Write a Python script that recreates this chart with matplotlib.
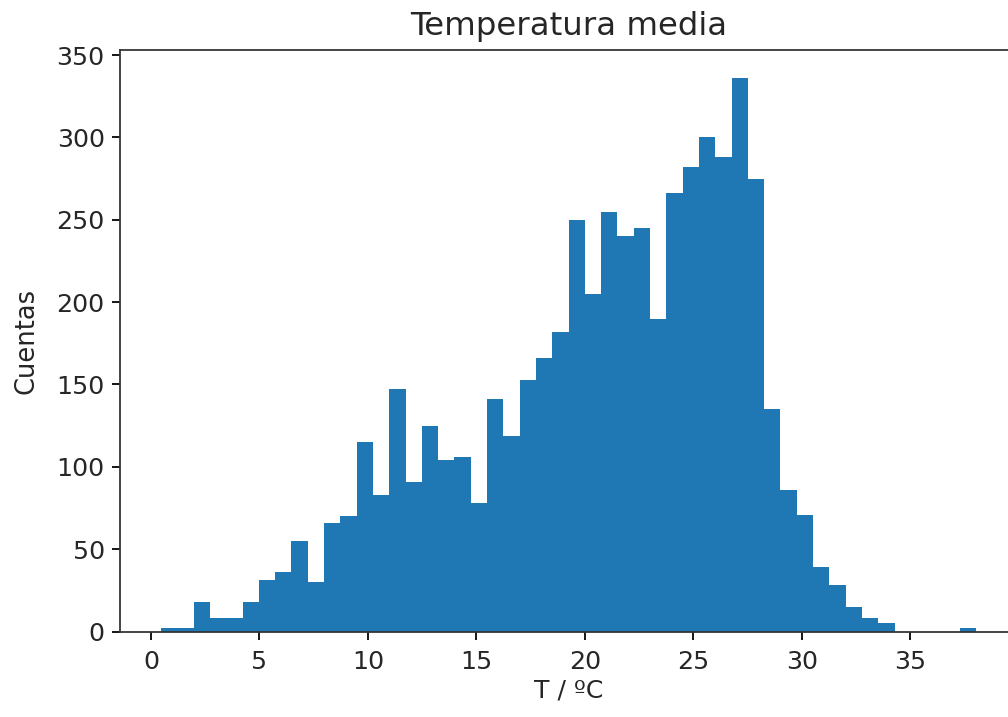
import numpy as np
import matplotlib
matplotlib.use("Agg")
import matplotlib.pyplot as plt

# Histogram data (50 equal-width bins)
t_min = 0.46
t_max = 38.04
n_bins = 50
counts = [2, 2, 18, 8, 8, 18, 31, 36, 55, 30,
          66, 70, 115, 83, 147, 91, 125, 104, 106, 78,
          141, 119, 153, 166, 182, 250, 205, 255, 240, 245,
          190, 266, 282, 300, 288, 336, 275, 135, 86, 71,
          39, 28, 15, 8, 5, 0, 0, 0, 0, 2]

title = "Temperatura media"
xlabel = "T / ºC"
ylabel = "Cuentas"

edges = np.linspace(t_min, t_max, n_bins + 1)
centers = 0.5 * (edges[:-1] + edges[1:])

text_color = "#262626"
plt.rcParams["text.color"] = text_color
plt.rcParams["axes.labelcolor"] = text_color
plt.rcParams["xtick.labelcolor"] = text_color
plt.rcParams["ytick.labelcolor"] = text_color

fig = plt.figure(figsize=(1008 / 160, 717 / 160), dpi=160)
ax = fig.add_axes([0.1193, 0.1192, 0.8895, 0.8105])
ax.hist(centers, bins=edges, weights=counts, color="#1f77b4")
ax.set_title(title, fontsize=14.6, pad=7)
ax.set_xlabel(xlabel, fontsize=11.3, labelpad=2)
ax.set_ylabel(ylabel, fontsize=11.6, labelpad=7.5)
ax.set_xticks([0, 5, 10, 15, 20, 25, 30, 35])
ax.set_yticks([0, 50, 100, 150, 200, 250, 300, 350])
ax.tick_params(labelsize=11.4)
ax.tick_params(axis="x", pad=5)
for s in ax.spines.values():
    s.set_edgecolor("#333333")

fig.savefig("out.png", dpi=160)
